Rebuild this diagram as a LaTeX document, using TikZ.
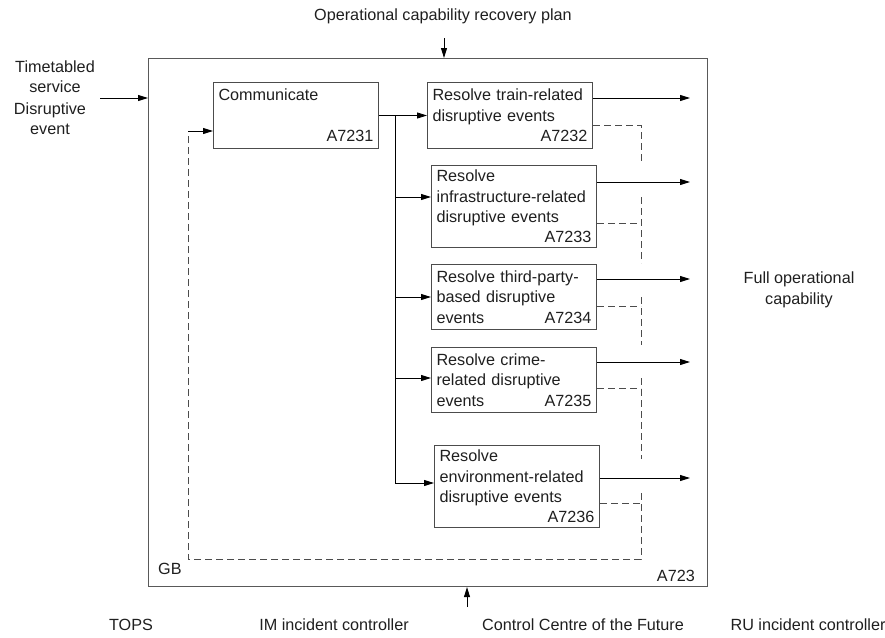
\documentclass[tikz,border=0pt]{standalone}
\usepackage{fontspec}
\setmainfont{Liberation Sans}
\usetikzlibrary{arrows.meta}
\begin{document}
\begin{tikzpicture}[x=1pt,y=-1pt,
  every node/.style={font=\fontsize{16.2}{20.4}\selectfont, text=black!88},
  frame/.style={draw=black!65, line width=1.1pt, anchor=north west, inner sep=0pt},
  proc/.style={draw=black!70, line width=1pt, minimum width=165pt, text width=155pt,
    inner xsep=5pt, inner ysep=0pt, align=left, anchor=north west},
  flow/.style={draw=black, line width=0.9pt, -{Triangle[length=10pt,width=6pt]}},
  wire/.style={draw=black, line width=0.9pt},
  ctrl/.style={draw=black!70, line width=1pt, dash pattern=on 7pt off 4pt},
  lbl/.style={align=center, inner sep=0pt}]

% canvas
\useasboundingbox (0,0) rectangle (885,637);

% enclosing activity A723
\node[frame, minimum width=559pt, minimum height=528pt] (outer) at (148,58) {};
\node[lbl, anchor=west] (gb) at (158,569) {GB};
\node[lbl, anchor=east] (anum) at (695,576) {A723};

% sub-activities
\node[proc, minimum height=66pt] (c1) at (213,82)
  {Communicate\\\mbox{}\\\hfill A7231};
\node[proc, minimum height=66pt] (b2) at (427,82)
  {Resolve train-related\\disruptive events\\\hfill A7232};
\node[proc, minimum height=82pt] (b3) at (431,165)
  {Resolve\\infrastructure-related\\disruptive events\\\hfill A7233};
\node[proc, minimum height=65pt] (b4) at (431,264)
  {Resolve third-party-\\based disruptive\\events\hfill A7234};
\node[proc, minimum height=65pt] (b5) at (431,347)
  {Resolve crime-\\related disruptive\\events\hfill A7235};
\node[proc, minimum height=82pt] (b6) at (434,445)
  {Resolve\\environment-related\\disruptive events\\\hfill A7236};

% external labels
\node[lbl] (plan) at (443,16) {Operational capability recovery plan};
\node[lbl] (tts) at (55,77) {Timetabled\\service};
\node[lbl] (dev) at (50,119) {Disruptive\\event};
\node[lbl] (full) at (799,290) {Full operational\\capability};
\node[lbl] (tops) at (131,625) {TOPS};
\node[lbl] (imc) at (334,625) {IM incident controller};
\node[lbl] (ccf) at (583,625) {Control Centre of the Future};
\node[lbl] (ruc) at (808,625) {RU incident controller};

% free ends and junctions
\coordinate (inL) at (100,98);
\coordinate (ctlT) at (444,38);
\coordinate (mechB) at (467,607);
\coordinate (j0) at (395,115);
\coordinate (j3) at (395,197);
\coordinate (j4) at (395,297);
\coordinate (j5) at (395,378);
\coordinate (j6) at (395,483);
\coordinate (o2) at (690,98);
\coordinate (o3) at (690,182);
\coordinate (o4) at (690,279);
\coordinate (o5) at (690,362);
\coordinate (o6) at (690,478);
\coordinate (fb) at (188,131);

% inputs, control, mechanism
\draw[flow] (inL) -- (outer.west |- inL);
\draw[flow] (ctlT) -- (outer.north -| ctlT);
\draw[flow] (mechB) -- (outer.south -| mechB);

% distribution from Communicate
\draw[flow] (c1.east) -- (b2.west);
\draw[wire] (j0) -- (j6);
\draw[flow] (j3) -- (b3.west |- j3);
\draw[flow] (j4) -- (b4.west |- j4);
\draw[flow] (j5) -- (b5.west |- j5);
\draw[flow] (j6) -- (b6.west |- j6);

% outputs
\draw[flow] (b2.east |- o2) -- (o2);
\draw[flow] (b3.east |- o3) -- (o3);
\draw[flow] (b4.east |- o4) -- (o4);
\draw[flow] (b5.east |- o5) -- (o5);
\draw[flow] (b6.east |- o6) -- (o6);

% feedback loop
\draw[ctrl] (b2.east |- 0,125) -- (641,125) -- (641,163);
\draw[ctrl] (b3.east |- 0,223) -- (641,223);
\draw[ctrl] (b4.east |- 0,306) -- (641,306);
\draw[ctrl] (b5.east |- 0,388) -- (641,388);
\draw[ctrl] (b6.east |- 0,503) -- (641,503);
\draw[ctrl] (641,197) -- (641,263);
\draw[ctrl] (641,297) -- (641,345);
\draw[ctrl] (641,378) -- (641,459);
\draw[ctrl] (641,493) -- (641,559) -- (fb |- 0,559) -- (fb);
\draw[flow] (fb) -- (c1.west |- fb);
\end{tikzpicture}
\end{document}
